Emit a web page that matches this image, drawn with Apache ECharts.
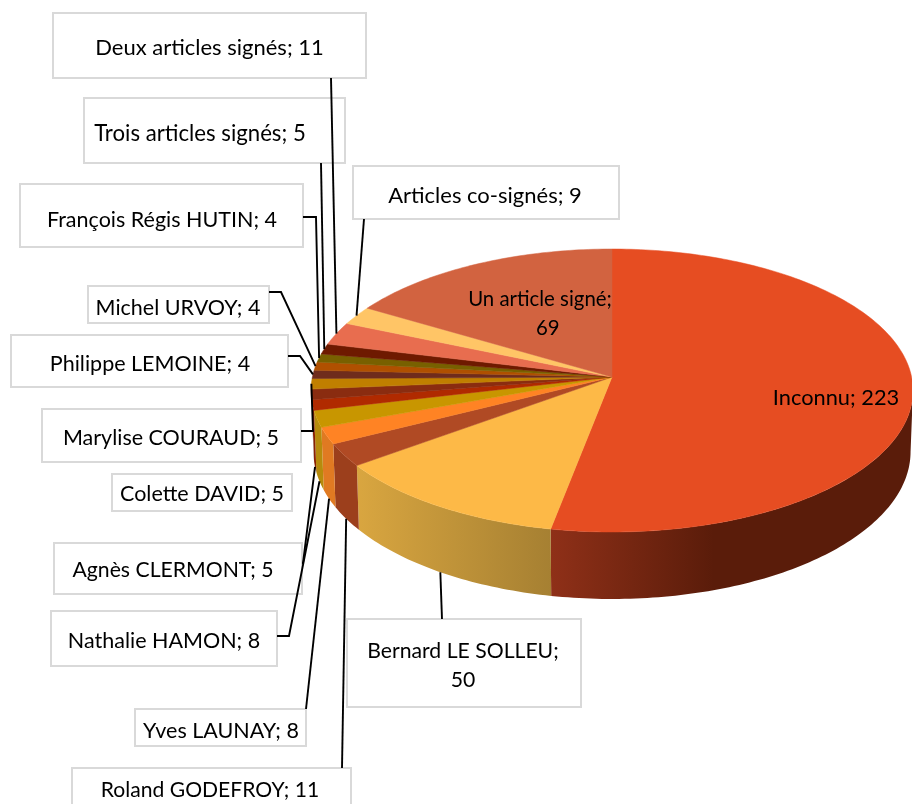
<!DOCTYPE html>
<html>
<head>
<meta charset="utf-8">
<title>Articles</title>
<script src="https://cdn.jsdelivr.net/npm/echarts@6/dist/echarts.min.js"></script>
<style>
  html, body { margin: 0; padding: 0; background: #fff; }
  #chart { width: 912px; height: 804px; overflow: hidden; }
</style>
</head>
<body>
<div id="chart"></div>
<script>
// clockwise from 12 o'clock
var names = ['Inconnu', 'Bernard LE SOLLEU', 'Roland GODEFROY', 'Yves LAUNAY', 'Nathalie HAMON',
  'Agnès CLERMONT', 'Colette DAVID', 'Marylise COURAUD', 'Philippe LEMOINE', 'Michel URVOY',
  'François Régis HUTIN', 'Trois articles signés', 'Deux articles signés', 'Articles co-signés', 'Un article signé'];
var values = [223, 50, 11, 8, 8, 5, 5, 5, 4, 4, 4, 5, 11, 9, 69];

var topColors = ['#e64d22', '#fdb947', '#b04a24', '#ff8324', '#c89600', '#b02a00', '#8a2c10', '#c07f00',
  '#6f2c1c', '#b05000', '#786000', '#6e1a00', '#e86d4f', '#ffc566', '#d26340'];
// side wall colours, left to right
var wallColors = [['#8f3018', '#5a1c0a'], ['#d9a640', '#a68032'], ['#9c3f1c', '#9c3f1c'], ['#e07a22', '#e07a22'],
  ['#b68b0c', '#b68b0c'], ['#8a2000', '#8a2000']];

// label boxes [x, y, w, h], text centre and the elbow points of the leader, index follows names
var labelLayout = [
  { text: [836, 398], size: 21.8 },
  { box: [347, 619, 234, 88], text: [463, 666], size: 21.2, from: [442, 619], rim: 'wall' },
  { box: [72, 768, 279, 50], text: [210, 790], size: 21.1, from: [342, 768], rim: 'wall' },
  { box: [135, 709, 171, 37], text: [221, 731], from: [306, 709], rim: 'wall' },
  { box: [51, 611, 226, 55], text: [164, 641], from: [277, 636], elbow: [289, 636], rim: 'wall' },
  { box: [54, 543, 248, 51], text: [173, 570], size: 21.2, from: [302, 563], elbow: [303, 563], rim: 'wall' },
  { box: [112, 474, 180, 37], text: [202, 494] },
  { box: [42, 409, 259, 53], text: [171, 438], from: [301, 431], elbow: [313, 431], rim: 'top' },
  { box: [11, 335, 277, 52], text: [150, 364], from: [288, 356], elbow: [300, 356], rim: 'top' },
  { box: [88, 286, 181, 37], text: [178, 308], from: [269, 292], elbow: [281, 292], rim: 'top' },
  { box: [20, 184, 283, 63], text: [162, 220], from: [303, 217], elbow: [316, 217], rim: 'top' },
  { box: [84, 98, 261, 65], text: [200, 134], size: 22.2, from: [321, 163], rim: 'top' },
  { box: [53, 13, 313, 65], text: [209.5, 48], size: 22, from: [331, 78], rim: 'top' },
  { box: [353, 166, 266, 53], text: [485, 196], size: 22, from: [364, 219], rim: 'top' },
  { text: [540, 314], size: 20.4 }
];
var lineBreaks = { 1: 'Bernard LE SOLLEU;\n50', 14: 'Un article signé;\n   69' };

var FONT = 'Lato, "Open Sans", sans-serif';
var FONT_SIZE = 21.5;
var TOTAL = values.reduce(function (a, b) { return a + b; }, 0);

// start angles in degrees from the values
var starts = [];
values.reduce(function (sum, v, i) { starts[i] = sum / TOTAL * 360; return sum + v; }, 0);
function endAngle(i) { return starts[i] + values[i] / TOTAL * 360; }

// perspective of the tilted disc: apex sits above the centre of the ellipse
var CX = 612, CY = 377, RX = 299.6, RY = 140.2, P = 0.0954, DEPTH = 60.6, SHRINK = 0.992;
function project(deg, onBottom) {
  var a = deg * Math.PI / 180;
  var u = Math.sin(a), v = Math.cos(a), d = 1 + P * v;
  return [
    CX + RX * u / d * (onBottom ? SHRINK : 1),
    CY - RY * v / d + (onBottom ? DEPTH / d : 0)
  ];
}
function arc(from, to, onBottom) {
  var pts = [];
  var n = Math.max(2, Math.ceil(to - from));
  for (var k = 0; k <= n; k++) pts.push(project(from + (to - from) * k / n, onBottom));
  return pts;
}
// visible part of the side runs between the two widest points of the ellipse
var WALL_FROM = 95.5, WALL_TO = 264.5;

function renderWall(params, api) {
  var i = params.dataIndex;
  var from = Math.max(starts[i], WALL_FROM);
  var to = Math.min(starts[i] + api.value(0) / TOTAL * 360, WALL_TO);
  if (to <= from) return null;
  var pts = arc(from, to, false).concat(arc(from, to, true).reverse());
  var xs = pts.map(function (p) { return p[0]; });
  var left = Math.min.apply(null, xs);
  var right = Math.max.apply(null, xs);
  var c = wallColors[i] || ['#888', '#888'];
  var stops = i === 0
    ? [{ offset: 0, color: c[1] }, { offset: 0.55, color: c[1] }, { offset: 1, color: c[0] }]
    : [{ offset: 0, color: c[0] }, { offset: 1, color: c[1] }];
  var grad = new echarts.graphic.LinearGradient(i === 0 ? right : left, 0, i === 0 ? left : right, 0, stops, true);
  return { type: 'polygon', shape: { points: pts }, style: { fill: grad, stroke: c[0], lineWidth: 0 } };
}

function renderTop(params, api) {
  var i = params.dataIndex;
  var pts = [[CX, CY]].concat(arc(starts[i], starts[i] + api.value(0) / TOTAL * 360, false));
  return {
    type: 'polygon',
    shape: { points: pts },
    style: { fill: topColors[i], stroke: topColors[i], lineWidth: 0.5 }
  };
}

function renderBox(params, api) {
  var i = params.dataIndex;
  var lay = labelLayout[i];
  var children = [];
  if (lay.box) {
    children.push({
      type: 'rect',
      shape: { x: lay.box[0], y: lay.box[1], width: lay.box[2], height: lay.box[3] },
      style: { fill: '#fff', stroke: '#d9d9d9', lineWidth: 2 }
    });
  }
  children.push({
    type: 'text',
    style: {
      text: lineBreaks[i] || (names[i] + '; ' + api.value(0)),
      x: lay.text[0], y: lay.text[1],
      align: 'center', verticalAlign: 'middle',
      fontFamily: FONT, fontSize: lay.size || FONT_SIZE, lineHeight: 29,
      fill: '#000'
    }
  });
  return { type: 'group', children: children };
}

function renderLeader(params) {
  var i = params.dataIndex;
  var lay = labelLayout[i];
  if (!lay.rim) return null;
  var mid = (starts[i] + endAngle(i)) / 2;
  var pts = [lay.from];
  if (lay.elbow) pts.push(lay.elbow);
  pts.push(project(mid, lay.rim === 'wall'));
  return { type: 'polyline', shape: { points: pts }, style: { stroke: '#000', lineWidth: 1.9, fill: null } };
}

var seriesData = values.map(function (v, i) { return { name: names[i], value: v }; });

function layer(render, z) {
  return { type: 'custom', coordinateSystem: 'none', renderItem: render, data: seriesData, z: z, silent: true, clip: false };
}

var myChart = echarts.init(document.getElementById('chart'));
myChart.setOption({
  animation: false,
  backgroundColor: '#fff',
  series: [
    layer(renderWall, 1),
    layer(renderTop, 2),
    layer(renderBox, 3),
    layer(renderLeader, 4)
  ]
});
</script>
</body>
</html>
